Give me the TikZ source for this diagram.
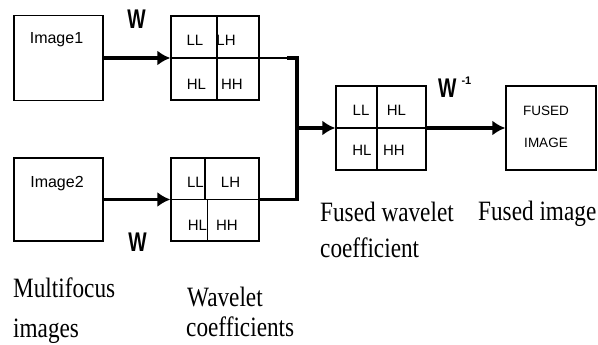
\documentclass[tikz,border=0pt]{standalone}
\usepackage{fontspec}
\setmainfont{Liberation Serif}
\newfontfamily\boxfont{Liberation Sans}
\usepackage{graphicx}
\usetikzlibrary{arrows.meta}
\newcommand{\linecol}{black}
\newcommand{\narrowW}{\scalebox{0.72}[1]{W}}
\newcommand{\capx}[1]{\scalebox{0.83}[1]{#1}}

\begin{document}
\begin{tikzpicture}[x=1pt, y=-1pt,
    blk/.style={draw=\linecol, line width=1.3pt, inner sep=0pt, minimum width=89pt},
    quad/.style={font=\boxfont\fontsize{15}{15}\selectfont, anchor=base, inner sep=0pt},
    boxtxt/.style={font=\boxfont\fontsize{16}{16}\selectfont, anchor=base, inner sep=0pt},
    wlab/.style={font=\boxfont\bfseries\fontsize{27}{27}\selectfont, anchor=base, inner sep=0pt},
    caption/.style={font=\fontsize{28}{28}\selectfont, anchor=base west, inner sep=0pt},
    divider/.style={draw=\linecol, line width=1.3pt},
    bus/.style={draw=\linecol, line width=3.5pt},
    flow/.style={draw=\linecol, line width=3.5pt, -{Latex[length=13pt, width=15pt]}}]

    \useasboundingbox (0, 0) rectangle (598, 345);

    % boxes
    \node[blk, minimum height=85pt] (img1) at (58.5, 58) {};
    \node[blk, minimum height=83pt] (img2) at (58.5, 199.5) {};
    \node[blk, minimum width=88pt, minimum height=84pt] (wav1) at (215, 58) {};
    \node[blk, minimum width=88pt, minimum height=83pt] (wav2) at (215, 199.5) {};
    \node[blk, minimum width=90pt, minimum height=84pt] (fwav) at (381, 128) {};
    \node[blk, minimum width=90pt, minimum height=84pt] (fimg) at (551, 128) {};

    % quadrant lines
    \draw[divider] ([xshift=2pt]wav1.north) -- ([xshift=2pt]wav1.south);
    \draw[divider] (wav1.west) -- (wav1.east);
    \draw[divider] ([xshift=-10pt]wav2.north) -- ([xshift=-10pt]wav2.center);
    \draw[divider] ([xshift=-7.5pt]wav2.center) -- ([xshift=-7.5pt]wav2.south);
    \draw[divider] (wav2.west) -- (wav2.east);
    \draw[divider] ([xshift=-4pt]fwav.north) -- ([xshift=-4pt]fwav.south);
    \draw[divider] (fwav.west) -- (fwav.east);

    % box texts
    \node[boxtxt] (t1) at (56.5, 44) {Image1};
    \node[boxtxt] (t2) at (57, 187) {Image2};

    \node[quad] (w1ll) at (195, 46) {LL};
    \node[quad] (w1lh) at (226, 46) {LH};
    \node[quad] (w1hl) at (196.5, 89.5) {HL};
    \node[quad] (w1hh) at (232, 89.5) {HH};

    \node[quad] (w2ll) at (195.5, 187.5) {LL};
    \node[quad] (w2lh) at (230.5, 187.5) {LH};
    \node[quad] (w2hl) at (197.5, 230.5) {HL};
    \node[quad] (w2hh) at (227, 230.5) {HH};

    \node[quad] (fll) at (361, 115.5) {LL};
    \node[quad] (fhl) at (396.5, 115.5) {HL};
    \node[quad] (fhlb) at (362, 155.5) {HL};
    \node[quad] (fhh) at (394, 155.5) {HH};

    \node[boxtxt, font=\boxfont\fontsize{13.5}{13.5}\selectfont] (fu) at (546, 116) {FUSED};
    \node[boxtxt, font=\boxfont\fontsize{13.5}{13.5}\selectfont] (im) at (546, 147) {IMAGE};

    % transform labels
    \node[wlab] (wtop) at (136.5, 29) {\narrowW};
    \node[wlab] (wbot) at (137.5, 251) {\narrowW};
    \node[wlab, anchor=base west] (winv) at (438, 98)
        {\narrowW\hspace{5pt}\raisebox{13pt}{\fontsize{11}{11}\selectfont -1}};

    % connectors
    \draw[flow] (img1.east) -- (wav1.west);
    \draw[flow] (img2.east) -- (wav2.west);

    \coordinate (elbow) at (287, 58);
    \coordinate (cornerA) at (297, 58);
    \coordinate (cornerB) at (297, 199.5);
    \coordinate (join) at (cornerA |- fwav.west);

    \draw[divider] (wav1.east) -- (elbow);
    \draw[bus] (elbow) -- (cornerA) -- (cornerB) -- (wav2.east);
    \draw[flow] (join) -- (fwav.west);
    \draw[flow] (fwav.east) -- (fimg.west);

    % captions
    \node[caption] (c1a) at (13, 297) {\capx{Multifocus}};
    \node[caption] (c1b) at (13, 337) {\capx{images}};
    \node[caption] (c2a) at (187, 306) {\capx{Wavelet}};
    \node[caption] (c2b) at (186, 336) {\capx{coefficients}};
    \node[caption] (c3a) at (320, 222) {\capx{Fused wavelet}};
    \node[caption] (c3b) at (320, 257) {\capx{coefficient}};
    \node[caption] (c4a) at (478, 220) {\capx{Fused image}};

  \end{tikzpicture}
\end{document}
